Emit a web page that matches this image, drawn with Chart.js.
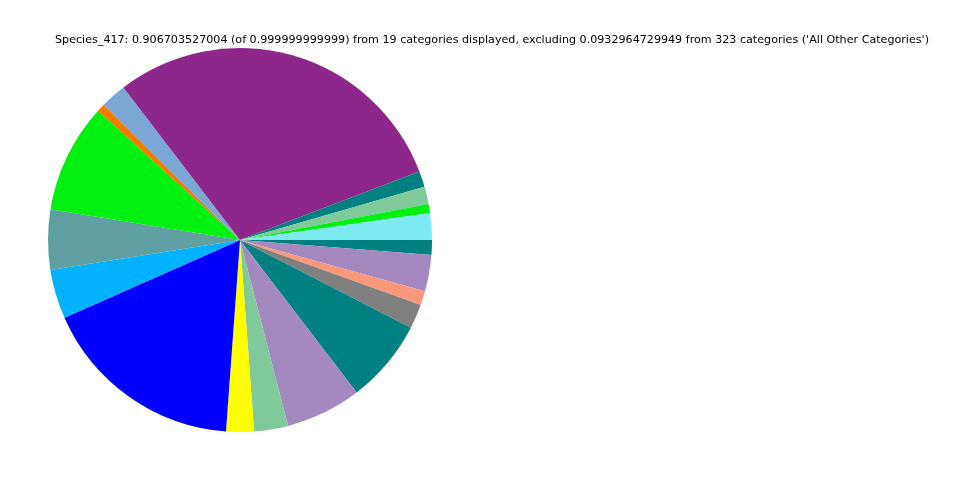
<!DOCTYPE html>
<html lang="en">
<head>
    <meta charset="UTF-8">
    <title>Species_417 pie</title>
    <script src="https://cdn.jsdelivr.net/npm/chart.js"></script>
    <style>
        body {
            margin: 0;
            background: #ffffff;
        }
        canvas {
            display: block;
        }
    </style>
</head>
<body>
    <canvas id="pieCanvas" width="960" height="480"></canvas>

    <script>
        // slices in matplotlib order (counterclockwise from 3 o'clock)
        const categories = [
            'Cat 1', 'Cat 2', 'Cat 3', 'Cat 4', 'Cat 5', 'Cat 6', 'Cat 7', 'Cat 8', 'Cat 9', 'Cat 10',
            'Cat 11', 'Cat 12', 'Cat 13', 'Cat 14', 'Cat 15', 'Cat 16', 'Cat 17', 'Cat 18', 'Cat 19'
        ];
        const values = [
            0.0204, 0.0068, 0.0133, 0.0121, 0.2682, 0.0196, 0.0063, 0.0834, 0.0458, 0.0375,
            0.1559, 0.0212, 0.0259, 0.0577, 0.0640, 0.0186, 0.0108, 0.0277, 0.0113
        ];
        const colors = [
            '#7fe9f2', '#00f010', '#80c99b', '#008080', '#8e278b', '#7ba7d6', '#f07c00', '#00f010', '#5f9f9f', '#00b2ff',
            '#0000ff', '#ffff00', '#80c99b', '#a489c0', '#008080', '#808080', '#f9977a', '#a489c0', '#008080'
        ];
        const titleText = "Species_417: 0.906703527004 (of 0.999999999999) from 19 categories displayed, excluding 0.0932964729949 from 323 categories ('All Other Categories')";

        // Chart.js draws clockwise, so reverse and start at 3 o'clock
        const revLabels = categories.slice().reverse();
        const revValues = values.slice().reverse();
        const revColors = colors.slice().reverse();

        const titlePlugin = {
            id: 'plainTitle',
            afterDraw(chart) {
                const c = chart.ctx;
                c.save();
                c.fillStyle = '#000000';
                c.font = '11.14px "DejaVu Sans"';
                c.textAlign = 'center';
                c.textBaseline = 'middle';
                c.fillText(titleText, 492, 40);
                c.restore();
            }
        };

        const ctx = document.getElementById('pieCanvas').getContext('2d');
        const chart = new Chart(ctx, {
            type: 'pie',
            data: {
                labels: revLabels,
                datasets: [{
                    data: revValues,
                    backgroundColor: revColors,
                    borderWidth: 0
                }]
            },
            options: {
                responsive: false,
                animation: false,
                rotation: 90,
                layout: {
                    padding: { left: 48, right: 528, top: 48, bottom: 48 }
                },
                plugins: {
                    legend: { display: false },
                    tooltip: { enabled: false },
                    title: { display: false }
                }
            },
            plugins: [titlePlugin]
        });
    </script>
</body>
</html>
